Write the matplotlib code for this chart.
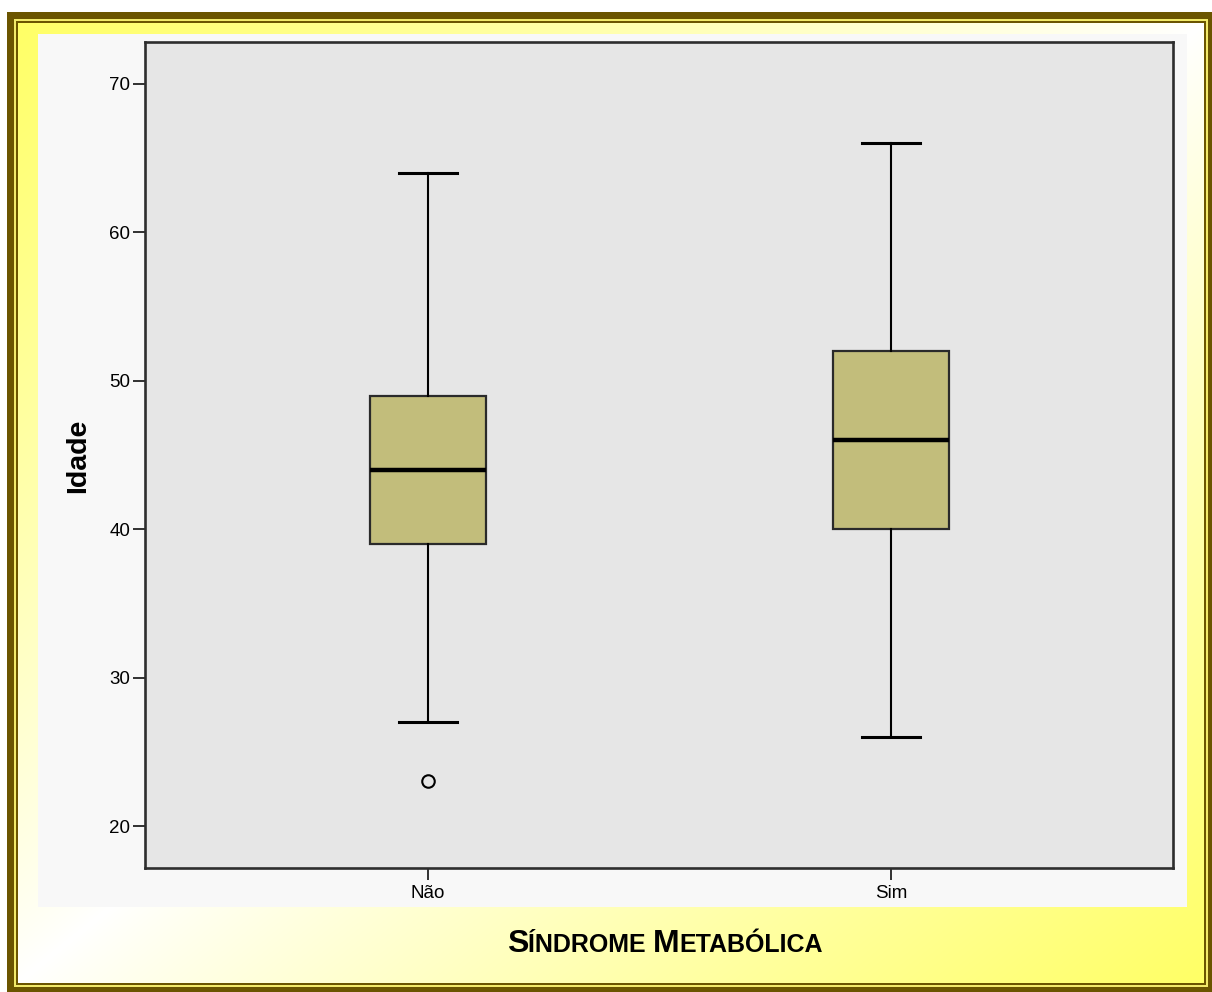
import matplotlib
matplotlib.use("Agg")
import matplotlib.pyplot as plt
import matplotlib.patches as mpatches
import numpy as np

plt.rcParams['font.family'] = ['Liberation Sans', 'DejaVu Sans']

# data
categories = ['Não', 'Sim']
whisker_low = [27, 26]
q1 = [39, 40]
median = [44, 46]
q3 = [49, 52]
whisker_high = [64, 66]
outliers = [[23], []]

y_ticks = [20, 30, 40, 50, 60, 70]
y_label = 'Idade'
title_parts = [('S', 23), ('ÍNDROME ', 18), ('M', 23), ('ETABÓLICA', 18)]

W, H = 1212, 992
fig = plt.figure(figsize=(W / 100, H / 100), dpi=100)
fig.patch.set_facecolor('white')

# background: frame + diagonal yellow gradient
bg = fig.add_axes([0, 0, 1, 1])
bg.set_xlim(0, W)
bg.set_ylim(H, 0)
bg.axis('off')

dark = '#6b5500'
bg.add_patch(mpatches.Rectangle((7, 12), W - 7, H - 12, color=dark, lw=0))
bg.add_patch(mpatches.Rectangle((14, 19), 1208 - 14, 987 - 19, color='#f2ea6a', lw=0))
bg.add_patch(mpatches.Rectangle((16, 21), 1206 - 16, 985 - 21, color=dark, lw=0))

gx = np.linspace(0, 1, 300)
gy = np.linspace(0, 1, 250)
X, Y = np.meshgrid(gx, gy)
t = (X + Y) / 2.0
k = np.abs(t - 0.5) * 2  # 1 at corners TL/BR, 0 on the anti-diagonal
k = np.clip(k, 0, 1) ** 0.9
yellow = np.array([1.0, 1.0, 0.40])
white = np.array([1.0, 1.0, 1.0])
img = white[None, None, :] * (1 - k[..., None]) + yellow[None, None, :] * k[..., None]
bg.imshow(img, extent=(18, 1204, 983, 23), aspect='auto', interpolation='bilinear', zorder=2)

# light chart panel
bg.add_patch(mpatches.Rectangle((38, 34), 1187 - 38, 907 - 34, color='#f8f8f8', lw=0, zorder=3))

# main plot
ax = fig.add_axes([145 / W, 1 - 868 / H, 1028 / W, 826 / H])
ax.set_facecolor('#e6e6e6')

stats = []
for i, name in enumerate(categories):
    stats.append({
        'label': name,
        'whislo': whisker_low[i],
        'q1': q1[i],
        'med': median[i],
        'q3': q3[i],
        'whishi': whisker_high[i],
        'fliers': outliers[i],
    })

ax.bxp(stats, positions=[0, 1], widths=0.2505, patch_artist=True,
       boxprops=dict(facecolor='#c2bd7b', edgecolor='#2a2a2a', linewidth=1.6),
       medianprops=dict(color='black', linewidth=3.2),
       whiskerprops=dict(color='black', linewidth=1.5),
       capprops=dict(color='black', linewidth=2.2),
       flierprops=dict(marker='o', markersize=9, markerfacecolor='none',
                       markeredgecolor='black', markeredgewidth=1.5))

ax.set_xlim(-0.611, 1.609)
ax.set_ylim(17.17, 72.83)
ax.set_yticks(y_ticks)
ax.set_xticks([0, 1])
ax.set_xticklabels(categories)
ax.tick_params(axis='both', direction='out', length=8.5, width=1.3,
               labelsize=13.5, color='#222222', pad=2)
ax.tick_params(axis='x', pad=4)
for s in ax.spines.values():
    s.set_color('#2e2e2e')
    s.set_linewidth(1.9)

fig.text(78 / W, 1 - 456 / H, y_label, rotation=90, ha='center', va='center',
         fontsize=20.5, fontweight='bold')

# small-caps style title built from pieces
renderer = fig.canvas.get_renderer()
texts = []
total = 0
for s, size in title_parts:
    tx = fig.text(0, 1 - 952 / H, s, fontsize=size, fontweight='bold',
                  ha='left', va='baseline')
    w = tx.get_window_extent(renderer=renderer).width
    texts.append((tx, w))
    total += w
x0 = 665 - total / 2
for tx, w in texts:
    tx.set_x(x0 / W)
    x0 += w

fig.savefig('out.png', dpi=100)
